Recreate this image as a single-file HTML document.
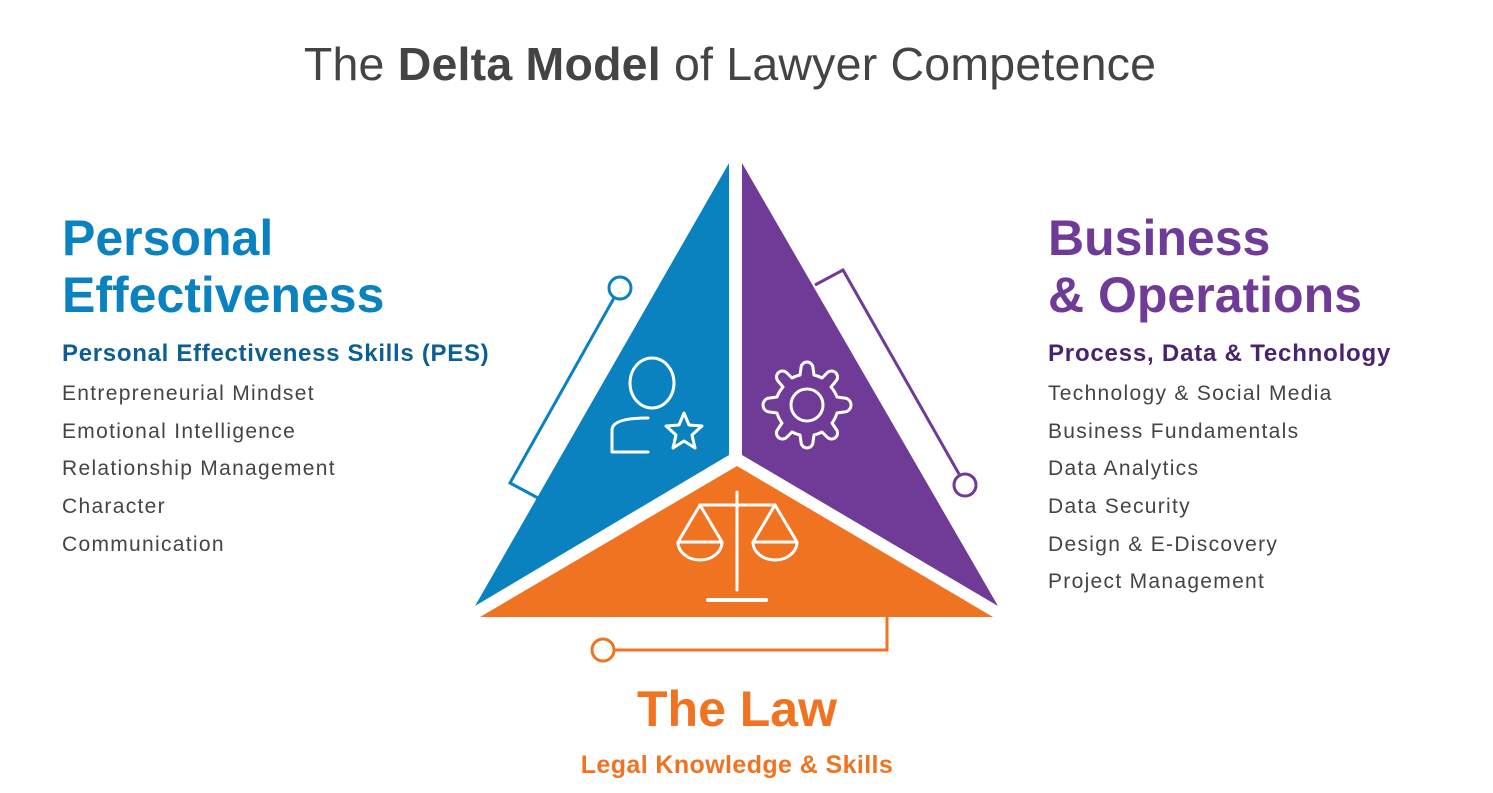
<!DOCTYPE html>
<html><head><style>
body{margin:0;width:1493px;height:793px;background:#fff;position:relative;overflow:hidden;font-family:"Liberation Sans",sans-serif}
.t{position:absolute;white-space:nowrap}
.h{font-weight:bold;font-size:50px;line-height:57px}
.item{font-size:21px;color:#444;letter-spacing:1.3px}
.sub{font-size:24px;font-weight:bold;letter-spacing:0.7px}
</style></head><body>
<div class="t" style="left:0;width:1460px;text-align:center;top:37px;font-size:46.5px;color:#444;letter-spacing:0.2px">The <b>Delta Model</b> of Lawyer Competence</div>
<div class="t h" style="left:62px;top:210px;color:#0a82c0">Personal<br>Effectiveness</div>
<div class="t sub" style="left:62px;top:340px;color:#0d5e93">Personal Effectiveness Skills (PES)</div>
<div class="t item" style="left:62px;top:382px">Entrepreneurial Mindset</div>
<div class="t item" style="left:62px;top:420px">Emotional Intelligence</div>
<div class="t item" style="left:62px;top:457px">Relationship Management</div>
<div class="t item" style="left:62px;top:495px">Character</div>
<div class="t item" style="left:62px;top:533px">Communication</div>
<div class="t h" style="left:1048px;top:210px;color:#6f3b96">Business<br>&amp; Operations</div>
<div class="t sub" style="left:1048px;top:340px;color:#4a2370;letter-spacing:0.8px">Process, Data &amp; Technology</div>
<div class="t item" style="left:1048px;top:382px">Technology &amp; Social Media</div>
<div class="t item" style="left:1048px;top:420px">Business Fundamentals</div>
<div class="t item" style="left:1048px;top:457px">Data Analytics</div>
<div class="t item" style="left:1048px;top:495px">Data Security</div>
<div class="t item" style="left:1048px;top:533px">Design &amp; E-Discovery</div>
<div class="t item" style="left:1048px;top:570px">Project Management</div>
<div class="t" style="left:0;width:1474px;text-align:center;top:680px;font-size:50px;font-weight:bold;color:#f07322">The Law</div>
<div class="t" style="left:0;width:1474px;text-align:center;top:751px;font-size:25px;font-weight:bold;color:#f07322;letter-spacing:0.4px">Legal Knowledge &amp; Skills</div>
<svg width="1493" height="793" style="position:absolute;left:0;top:0">
<polygon points="729,163 729,455 475,606" fill="#0a82c0"/>
<polygon points="742,163 742,455 998,606" fill="#6f3b96"/>
<polygon points="737,466 480,617 993,617" fill="#f07322"/>
<g fill="none" stroke-width="3">
<polyline points="614,298 510,483 538,498" stroke="#0a82c0"/>
<circle cx="620" cy="288" r="11" stroke="#0a82c0" fill="#fff"/>
<polyline points="815,285 843,270 959,474" stroke="#6f3b96"/>
<circle cx="965" cy="485" r="11" stroke="#6f3b96" fill="#fff"/>
<polyline points="887,617 887,650 615,650" stroke="#f07322"/>
<circle cx="603" cy="650" r="11" stroke="#f07322" fill="#fff"/>
</g>
<g fill="none" stroke="#fff" stroke-width="3" stroke-linejoin="round" stroke-linecap="round">
<ellipse cx="652" cy="383" rx="22" ry="25"/>
<path d="M648,418 Q612,418 612,430 L612,452 L648,452"/>
<polygon points="684,413 689,425 702,426 692,435 695,448 684,441 673,448 676,435 666,426 679,425"/>
<circle cx="807" cy="405" r="16"/>
<g transform="translate(807,405)">
<path d="M-6,-37 A6,6 0 0 1 6,-37 L7,-30 A31,31 0 0 1 15,-27 L20,-32 A6,6 0 0 1 29,-24 L24,-18 A31,31 0 0 1 30,-8 L37,-7 A6,6 0 0 1 37,7 L30,8 A31,31 0 0 1 25,18 L29,24 A6,6 0 0 1 20,32 L15,27 A31,31 0 0 1 7,30 L6,37 A6,6 0 0 1 -6,37 L-7,30 A31,31 0 0 1 -15,27 L-20,32 A6,6 0 0 1 -29,24 L-25,18 A31,31 0 0 1 -30,8 L-37,7 A6,6 0 0 1 -37,-7 L-30,-8 A31,31 0 0 1 -24,-18 L-29,-24 A6,6 0 0 1 -20,-32 L-15,-27 A31,31 0 0 1 -7,-30 Z"/>
</g>
<line x1="737" y1="492" x2="737" y2="590"/>
<line x1="700" y1="505" x2="775" y2="505"/>
<line x1="708" y1="600" x2="766" y2="600" stroke-width="4"/>
<path d="M700,505 L678,542 L722,542 Z M678,542 a22,18 0 0 0 44,0"/>
<path d="M775,505 L753,542 L797,542 Z M753,542 a22,18 0 0 0 44,0"/>
</g>
</svg>
</body></html>
